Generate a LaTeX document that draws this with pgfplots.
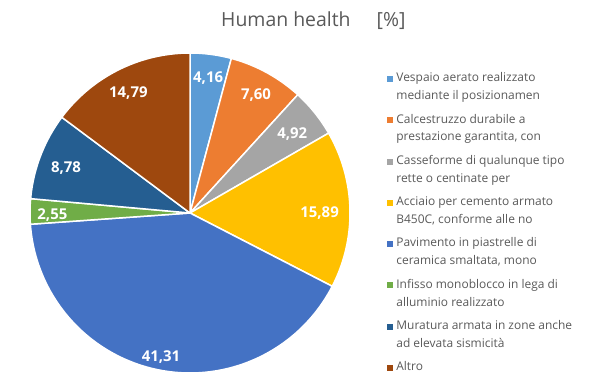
\documentclass[border=0pt]{standalone}
\usepackage{pgfplots}
\pgfplotsset{compat=1.18}
\usepackage{fontspec}
\setmainfont{Open Sans}
\definecolor{c1}{HTML}{5B9BD5}
\definecolor{c2}{HTML}{ED7D31}
\definecolor{c3}{HTML}{A5A5A5}
\definecolor{c4}{HTML}{FFC000}
\definecolor{c5}{HTML}{4472C4}
\definecolor{c6}{HTML}{70AD47}
\definecolor{c7}{HTML}{255E91}
\definecolor{c8}{HTML}{9E480E}
\definecolor{txtgray}{HTML}{595959}
% start (cumulative %), value (%), colour, label radius, label
\newcommand\slice[5]{%
  \addplot[fill=#3, draw=white, line width=1.5bp, line join=round,
    domain={90-3.6*(#1+#2)}:{90-3.6*(#1)}, samples=90, forget plot]
    ({cos(x)},{sin(x)}) -- (axis cs:0,0) -- cycle;
  \node[text=white, font=\fontsize{15}{17}\selectfont\bfseries, yshift=-3bp]
    at (axis cs:{#4*cos(90-3.6*(#1+#2/2))},{#4*sin(90-3.6*(#1+#2/2))}) {#5};
}
\begin{document}
\begin{tikzpicture}
\path[use as bounding box] (0bp,0bp) rectangle (600bp,-382bp);
\node[anchor=base west, text=txtgray, font=\fontsize{19.5}{22}\selectfont, inner sep=0pt]
  at (221bp,-26bp) {Human health\hspace{26bp}[\%]};
\begin{axis}[
  at={(190bp,-213bp)}, anchor=origin,
  scale only axis, x=160bp, y=160bp,
  xmin=-1, xmax=1, ymin=-1, ymax=1,
  hide axis, clip=false,
  legend style={at={(axis cs:1.2125,0.891)}, anchor=north west, draw=none, fill=none,
    font=\fontsize{12}{18}\selectfont, text=txtgray, row sep=12.8bp,
    nodes={align=left, inner sep=0pt}},
  legend cell align=left,
  legend image code/.code={\fill[#1, draw=none] (0bp,5bp) rectangle (6bp,11bp);
    \path (9bp,8bp);},
]
\slice{0}{4.16}{c1}{0.87}{4,16}
\slice{4.16}{7.60}{c2}{0.86}{7,60}
\slice{11.76}{4.92}{c3}{0.82}{4,92}
\slice{16.68}{15.89}{c4}{0.81}{15,89}
\slice{32.57}{41.31}{c5}{0.90}{41,31}
\slice{73.88}{2.55}{c6}{0.86}{2,55}
\slice{76.43}{8.78}{c7}{0.83}{8,78}
\slice{85.21}{14.79}{c8}{0.86}{14,79}
\addlegendimage{fill=c1}\addlegendentry{Vespaio aerato realizzato\\mediante il posizionamen}
\addlegendimage{fill=c2}\addlegendentry{Calcestruzzo durabile a\\prestazione garantita, con}
\addlegendimage{fill=c3}\addlegendentry{Casseforme di qualunque tipo\\rette o centinate per}
\addlegendimage{fill=c4}\addlegendentry{Acciaio per cemento armato\\B450C, conforme alle no}
\addlegendimage{fill=c5}\addlegendentry{Pavimento in piastrelle di\\ceramica smaltata, mono}
\addlegendimage{fill=c6}\addlegendentry{Infisso monoblocco in lega di\\alluminio realizzato}
\addlegendimage{fill=c7}\addlegendentry{Muratura armata in zone anche\\ad elevata sismicità}
\addlegendimage{fill=c8}\addlegendentry{Altro\\~}
\end{axis}
\end{tikzpicture}
\end{document}
